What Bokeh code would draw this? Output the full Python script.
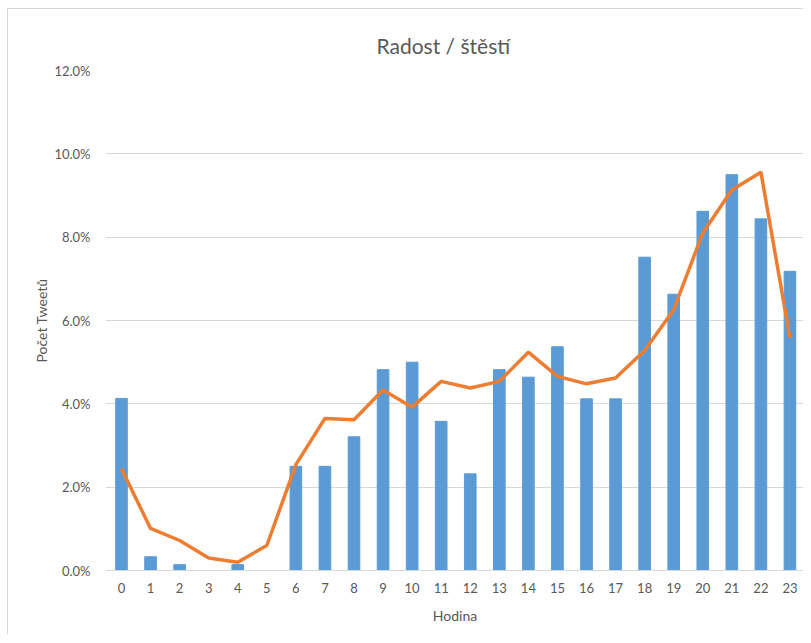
from bokeh.plotting import figure
from bokeh.models import Range1d, PrintfTickFormatter, FixedTicker, ColumnDataSource
from bokeh.embed import file_html
from bokeh.resources import INLINE

hours = list(range(24))
hour_labels = [str(h) for h in hours]
bar_values = [4.13, 0.33, 0.14, 0.0, 0.14, 0.0, 2.50, 2.50, 3.21, 4.82, 5.00, 3.58,
              2.32, 4.82, 4.64, 5.37, 4.12, 4.12, 7.52, 6.63, 8.62, 9.50, 8.44, 7.18]
line_values = [2.44, 1.01, 0.72, 0.30, 0.20, 0.60, 2.54, 3.65, 3.62, 4.33, 3.92, 4.54,
               4.38, 4.54, 5.24, 4.66, 4.48, 4.62, 5.28, 6.26, 8.10, 9.13, 9.56, 5.58]
y_ticks = [0, 2, 4, 6, 8, 10, 12]

FONT = "Lato"
GREY = "#595959"

src = ColumnDataSource(dict(x=hours, bar=bar_values, line=line_values))

p = figure(width=796, height=626, output_backend="svg", toolbar_location=None,
           x_range=Range1d(-0.55, 23.5), y_range=Range1d(0, 12),
           min_border_left=97, min_border_right=0, min_border_top=61, min_border_bottom=65)
p.margin = (8, 0, 0, 7)
p.styles = {"border-left": "1px solid #d9d9d9", "border-top": "1px solid #d9d9d9"}

p.vbar(x="x", top="bar", width=0.4, color="#5B9BD5", source=src)
p.line(x="x", y="line", line_width=3.5, color="#ED7D31", source=src)

p.title.text = "Radost / štěstí"
p.title.align = "left"
p.title.offset = 271
p.title.text_font = FONT
p.title.text_font_size = "21px"
p.title.text_font_style = "normal"
p.title.text_color = GREY
p.title.standoff = 25

p.outline_line_color = None
p.xgrid.grid_line_color = None
p.ygrid.grid_line_color = "#d9d9d9"
p.ygrid.grid_line_width = 1

p.yaxis.ticker = FixedTicker(ticks=y_ticks)
p.yaxis.formatter = PrintfTickFormatter(format="%.1f%%")
p.yaxis.axis_line_color = None
p.yaxis.major_tick_line_color = None
p.yaxis.minor_tick_line_color = None
p.yaxis.axis_label = "Počet Tweetů"

p.xaxis.ticker = FixedTicker(ticks=hours)
p.xaxis.major_label_overrides = {h: l for h, l in zip(hours, hour_labels)}
p.xaxis.axis_line_color = "#d9d9d9"
p.xaxis.major_tick_line_color = None
p.xaxis.minor_tick_line_color = None
p.xaxis.axis_label = "Hodina"

for ax in (p.xaxis[0], p.yaxis[0]):
    ax.major_label_text_font = FONT
    ax.major_label_text_font_size = "13px"
    ax.major_label_text_color = GREY
    ax.axis_label_text_font = FONT
    ax.axis_label_text_font_size = "14px"
    ax.axis_label_text_font_style = "normal"
    ax.axis_label_text_color = GREY

p.xaxis.major_label_standoff = 6
p.xaxis.axis_label_standoff = 11
p.yaxis.major_label_standoff = 9
p.yaxis.axis_label_standoff = 1

open("out.html", "w").write(file_html(p, INLINE))
